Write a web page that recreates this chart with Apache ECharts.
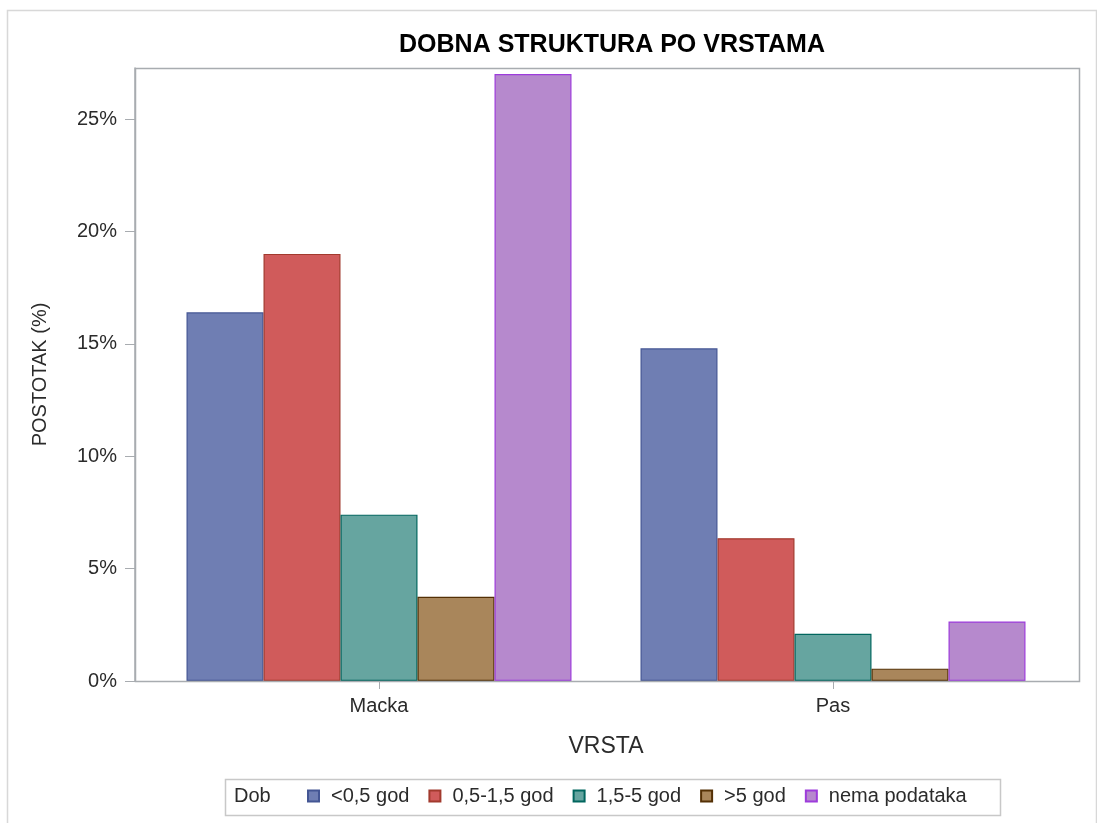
<!DOCTYPE html>
<html>
<head>
<meta charset="utf-8">
<script src="https://cdn.jsdelivr.net/npm/echarts@6/dist/echarts.min.js"></script>
<style>
  html, body { margin: 0; padding: 0; background: #fff; }
  #chart { width: 1097px; height: 823px; }
</style>
</head>
<body>
<div id="chart"></div>
<script>
// data
var categories = ['Macka', 'Pas'];
var groups = ['<0,5 god', '0,5-1,5 god', '1,5-5 god', '>5 god', 'nema podataka'];
var young = [16.4, 14.8];
var juvenile = [19.0, 6.35];
var adult = [7.4, 2.1];
var senior = [3.75, 0.55];
var unknown = [27.0, 2.65];
var yTicks = [0, 5, 10, 15, 20, 25];

var fills = ['#6F7EB3', '#D05B5B', '#66A5A0', '#A9865B', '#B689CD'];
var borders = ['#445694', '#A23A2E', '#01665E', '#543005', '#9D3CDB'];
var values = [young, juvenile, adult, senior, unknown];

var font = '"Liberation Sans", Arial, sans-serif';
var ink = '#2b2b2b';

var series = [];
for (var i = 0; i < groups.length; i++) {
	series.push({
		name: groups[i],
		type: 'bar',
		barWidth: 77,
		barGap: '0%',
		data: values[i],
		itemStyle: { color: fills[i], borderColor: borders[i], borderWidth: 1.2, opacity: 1 },
		emphasis: { disabled: true }
	});
}

var myChart = echarts.init(document.getElementById('chart'));
var option = {
	animation: false,
	title: {
		text: 'DOBNA STRUKTURA PO VRSTAMA',
		left: 607,
		top: 28,
		textAlign: 'center',
		textStyle: { fontFamily: font, fontSize: 25, fontWeight: 'bold', color: '#000' }
	},
	grid: { left: 152, right: 37, top: 68, bottom: 142 },
	graphic: [
		{ type: 'rect', z: -1, shape: { x: 7.5, y: 10.5, width: 1089, height: 830 },
		  style: { fill: 'none', stroke: '#d8d8d8', lineWidth: 1.5 } },
		{ type: 'rect', z: 10, shape: { x: 135.5, y: 68.5, width: 944, height: 613 },
		  style: { fill: 'none', stroke: '#a8acb0', lineWidth: 1.5 } },
		{ type: 'rect', shape: { x: 225.5, y: 779.5, width: 775, height: 36 },
		  style: { fill: 'none', stroke: '#c8c8c8', lineWidth: 1.5 } },
		{ type: 'text', left: 234, top: 786,
		  style: { text: 'Dob', fontFamily: font, fontSize: 20, fill: ink } }
	],
	legend: {
		data: groups,
		left: 302,
		top: 781,
		itemWidth: 11,
		itemHeight: 11,
		itemGap: 19,
		icon: 'rect',
		selectedMode: false,
		textStyle: { fontFamily: font, fontSize: 20, color: ink, padding: [0, 0, 0, 7] }
	},
	xAxis: {
		type: 'category',
		data: categories,
		name: 'VRSTA',
		nameLocation: 'middle',
		nameGap: 54,
		nameTextStyle: { fontFamily: font, fontSize: 23, color: ink },
		axisLine: { show: false },
		axisTick: { show: true, alignWithLabel: true, length: 8, lineStyle: { color: '#a8acb0' } },
		axisLabel: { fontFamily: font, fontSize: 20, color: ink, margin: 15 }
	},
	yAxis: {
		type: 'value',
		min: 0,
		max: 27.27,
		interval: 5,
		offset: 17,
		name: 'POSTOTAK (%)',
		nameLocation: 'middle',
		nameGap: 85,
		nameTextStyle: { fontFamily: font, fontSize: 20, color: ink },
		splitLine: { show: false },
		axisLine: { show: true, lineStyle: { color: '#a8acb0', width: 1.5 } },
		axisTick: { show: true, length: 10, customValues: yTicks, lineStyle: { color: '#a8acb0' } },
		axisLabel: { fontFamily: font, fontSize: 20, color: ink, margin: 18,
			customValues: yTicks, formatter: '{value}%' }
	},
	series: series
};
myChart.setOption(option);
</script>
</body>
</html>
